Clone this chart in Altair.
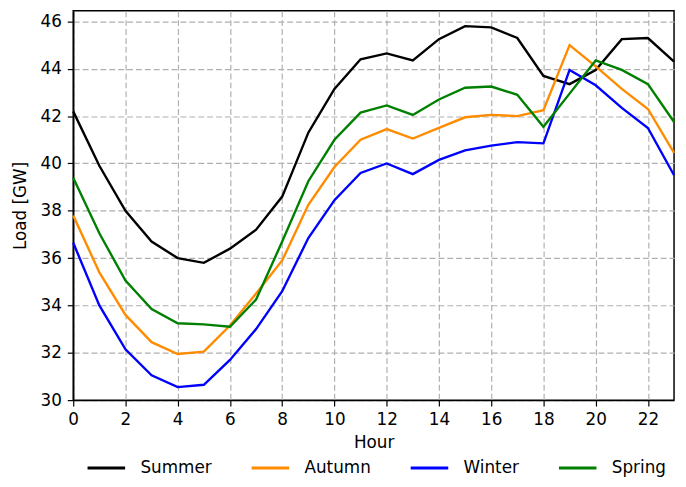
import altair as alt
import pandas as pd

hours = list(range(24))
seasons = ["Summer", "Autumn", "Winter", "Spring"]
colors = ["#000000", "#ff8c00", "#0000ff", "#008000"]

summer = [42.2, 39.9, 38.0, 36.7, 36.0, 35.8, 36.4, 37.2, 38.6, 41.3, 43.15, 44.4,
          44.65, 44.35, 45.25, 45.8, 45.75, 45.3, 43.7, 43.35, 43.95, 45.25, 45.3, 44.3]
autumn = [37.8, 35.4, 33.6, 32.45, 31.95, 32.05, 33.15, 34.5, 35.9, 38.25, 39.85, 41.0,
          41.45, 41.05, 41.5, 41.95, 42.05, 42.0, 42.25, 45.0, 44.1, 43.15, 42.3, 40.45]
winter = [36.65, 34.0, 32.15, 31.05, 30.55, 30.65, 31.7, 33.0, 34.6, 36.85, 38.45, 39.6,
          40.0, 39.55, 40.15, 40.55, 40.75, 40.9, 40.85, 43.95, 43.3, 42.35, 41.5, 39.5]
spring = [39.4, 37.05, 35.05, 33.85, 33.25, 33.2, 33.1, 34.25, 36.7, 39.25, 41.0, 42.15,
          42.45, 42.05, 42.7, 43.2, 43.25, 42.9, 41.55, 42.95, 44.35, 43.95, 43.35, 41.75]

x_ticks = list(range(0, 23, 2))
y_ticks = list(range(30, 47, 2))

rows = []
for name, vals in zip(seasons, [summer, autumn, winter, spring]):
    for h, v in zip(hours, vals):
        rows.append({"Hour": h, "Load": v, "Season": name, "order": seasons.index(name)})
df = pd.DataFrame(rows)

font = "DejaVu Sans"

chart = alt.Chart(df).mark_line(strokeWidth=2.4).encode(
    x=alt.X("Hour:Q",
            scale=alt.Scale(domain=[0, 23], nice=False, zero=False),
            axis=alt.Axis(values=x_ticks, title="Hour", titlePadding=7, labelPadding=6,
                          labelFlush=False)),
    y=alt.Y("Load:Q",
            scale=alt.Scale(domain=[30, 46.45], nice=False, zero=False),
            axis=alt.Axis(values=y_ticks, title="Load [GW]", labelPadding=6, titlePadding=11,
                          labelFlush=False)),
    color=alt.Color("Season:N",
                    scale=alt.Scale(domain=seasons, range=colors),
                    legend=alt.Legend(title=None, orient="none", legendX=13, legendY=442,
                                      direction="horizontal", columns=4, columnPadding=33,
                                      symbolType="stroke", symbolSize=1444, symbolStrokeWidth=3,
                                      labelOffset=14, labelFontSize=17, labelFont=font,
                                      labelColor="#000000", padding=0)),
    order=alt.Order("order:Q"),
    detail="Season:N",
).properties(
    width=608, height=394,
    autosize=alt.AutoSizeParams(type="none"),
    padding={"left": 66, "top": 0, "right": 4, "bottom": 77},
).configure_view(
    stroke="#000000", strokeWidth=1.5
).configure_axis(
    labelFont=font, titleFont=font, labelFontSize=17, titleFontSize=17,
    labelColor="#000000", titleColor="#000000", titleFontWeight="normal",
    domain=True, domainColor="#000000", domainWidth=1.5,
    tickColor="#000000", tickSize=6, tickWidth=1.2,
    grid=True, gridColor="#b0b0b0", gridDash=[6, 3], gridWidth=1.2, gridOpacity=1,
)

chart.save("out.html", embed_options={"renderer": "svg", "actions": False})
